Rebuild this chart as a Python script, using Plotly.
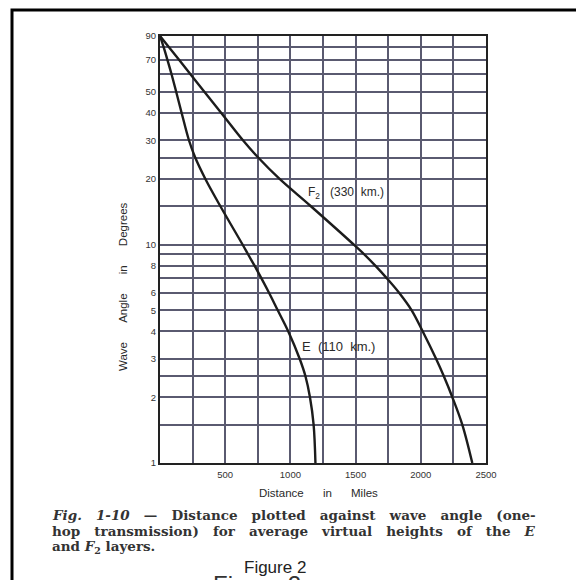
import plotly.graph_objects as go

# Data
e_angle = [90, 80, 70, 60, 50, 40, 30, 25, 20, 15, 10, 9, 8, 7, 6, 5, 4, 3, 2.5, 2, 1.5, 1]
e_dist = [0, 28, 57, 89, 124, 166, 222, 270, 347, 462, 633, 676, 725, 778, 837, 903, 984, 1071, 1115, 1150, 1178, 1192]

f2_angle = [90, 80, 70, 60, 50, 40, 30, 25, 20, 15, 10, 9, 8, 7, 6, 5, 4, 3, 2.5, 2, 1.5, 1]
f2_dist = [0, 69, 146, 235, 340, 470, 636, 753, 915, 1155, 1485, 1567, 1651, 1740, 1835, 1930, 2015, 2117, 2176, 2242, 2318, 2395]

x_grid = [0, 250, 500, 750, 1000, 1250, 1500, 1750, 2000, 2250, 2500]
x_labels = ["", "", "500", "", "1000", "", "1500", "", "2000", "", "2500"]
y_grid = [1, 1.5, 2, 2.5, 3, 4, 5, 6, 7, 8, 9, 10, 15, 20, 25, 30, 40, 50, 60, 70, 80, 90]
y_labels = ["1", "", "2", "", "3", "4", "5", "6", "", "8", "", "10", "", "20", "", "30", "40", "50", "", "70", "", "90"]

NB = "\u00a0"
caption_lines = [
    ("<i>Fig.</i> <i>1-10</i> — Distance plotted against wave angle (one-", 3),
    ("hop transmission) for average virtual heights of the <i>E</i>", 3),
    ("and <i>F</i><sub>2</sub> layers.", 1),
]

W, H = 584, 580
OFF = 8  # page body margin: figure pixel = page pixel - OFF
plot_left, plot_right, plot_top, plot_bottom = 160, 486, 36, 463  # page pixels
L = plot_left - OFF
R = W - (plot_right - OFF)
T = plot_top - OFF
B = H - (plot_bottom - OFF)
pw, ph = W - L - R, H - T - B


def px(x):
    return (x - OFF - L) / pw


def py(y):
    return (H - B - (y - OFF)) / ph


fig = go.Figure()
for xs, ys in [(e_dist, e_angle), (f2_dist, f2_angle)]:
    fig.add_trace(go.Scatter(x=xs, y=ys, mode="lines",
                             line=dict(color="#1c1c1c", width=2.4, shape="spline", smoothing=1.0),
                             showlegend=False, hoverinfo="skip"))

tickfont = dict(family="Liberation Sans Narrow, Liberation Sans, Arial", size=9.5, color="#333")
grid = "#5a5a70"
fig.update_xaxes(range=[0, 2500], tickvals=x_grid, ticktext=x_labels, showgrid=True, gridcolor=grid, gridwidth=1.5,
                 showline=True, linecolor="#222", linewidth=2, mirror=True, ticks="", tickfont=tickfont,
                 zeroline=False, ticklabelstandoff=2)
fig.update_yaxes(type="log", range=[0, 1.9542], tickvals=y_grid, ticktext=y_labels, showgrid=True, gridcolor=grid,
                 gridwidth=1.5, showline=True, linecolor="#222", linewidth=2, mirror=True, ticks="",
                 tickfont=tickfont, zeroline=False)

lab = dict(family="Liberation Sans Narrow, Liberation Sans", color="#2a2a2a")
annos = [
    dict(x=px(306), y=py(193), text="F<sub>2</sub>" + NB * 3 + "(330" + NB * 2 + "km.)", xanchor="left",
         font=dict(size=12, **lab)),
    dict(x=px(300), y=py(347), text="E" + NB * 2 + "(110" + NB * 2 + "km.)", xanchor="left",
         font=dict(size=13, **lab)),
    dict(x=px(123), y=py(287), text=("Wave" + NB * 6 + "Angle" + NB * 6 + "in" + NB * 6 + "Degrees"),
         textangle=-90, xanchor="center", font=dict(size=11.5, **lab)),
    dict(x=px(318), y=py(493), text="Distance" + NB * 6 + "in" + NB * 6 + "Miles", xanchor="center",
         font=dict(size=11.5, **lab)),
]
for (line, nsp), yy in zip(caption_lines, [515, 531, 547]):
    parts = line.split(" ")
    txt = (NB * nsp).join(parts)
    annos.append(dict(x=px(50), y=py(yy), text="<b>" + txt + "</b>", xanchor="left",
                      font=dict(family="DejaVu Serif", size=13.5, color="#333")))
annos.append(dict(x=px(211), y=py(584), text="Figure 2", xanchor="left",
                  font=dict(family="Liberation Sans, Arial", size=24, color="#333")))
annos.append(dict(x=px(242), y=py(567), text="Figure 2", xanchor="left",
                  font=dict(family="Liberation Sans, Arial", size=17, color="#222")))
for a in annos:
    a.update(xref="paper", yref="paper", showarrow=False, yanchor="middle")

fig.update_layout(
    width=W, height=H, margin=dict(l=L, r=R, t=T, b=B, autoexpand=False), paper_bgcolor="white",
    plot_bgcolor="white", annotations=annos,
    shapes=[dict(type="rect", xref="paper", yref="paper", x0=px(12), x1=px(578), y0=py(600), y1=py(10),
                 line=dict(color="black", width=3))],
)
fig.write_html("out.html")
